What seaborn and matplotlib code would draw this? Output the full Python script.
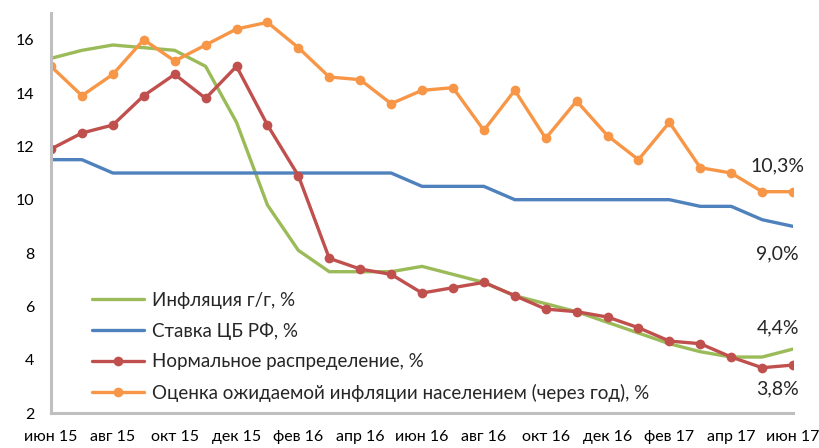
import matplotlib
matplotlib.use("Agg")
import matplotlib.pyplot as plt
import seaborn as sns
import pandas as pd
import numpy as np

months = ["июн 15", "июл 15", "авг 15", "сен 15", "окт 15", "ноя 15", "дек 15",
          "янв 16", "фев 16", "мар 16", "апр 16", "май 16", "июн 16", "июл 16",
          "авг 16", "сен 16", "окт 16", "ноя 16", "дек 16", "янв 17", "фев 17",
          "мар 17", "апр 17", "май 17", "июн 17"]

inflation = [15.3, 15.6, 15.8, 15.7, 15.6, 15.0, 12.9, 9.8, 8.1, 7.3, 7.3, 7.3, 7.5,
             7.2, 6.9, 6.4, 6.1, 5.8, 5.4, 5.0, 4.6, 4.3, 4.1, 4.1, 4.4]
key_rate = [11.5, 11.5, 11.0, 11.0, 11.0, 11.0, 11.0, 11.0, 11.0, 11.0, 11.0, 11.0,
            10.5, 10.5, 10.5, 10.0, 10.0, 10.0, 10.0, 10.0, 10.0, 9.75, 9.75, 9.25, 9.0]
normal = [11.9, 12.5, 12.8, 13.9, 14.7, 13.8, 15.0, 12.8, 10.9, 7.8, 7.4, 7.2, 6.5,
          6.7, 6.9, 6.4, 5.9, 5.8, 5.6, 5.2, 4.7, 4.6, 4.1, 3.7, 3.8]
expected = [15.0, 13.9, 14.7, 16.0, 15.2, 15.8, 16.4, 16.65, 15.7, 14.6, 14.5, 13.6,
            14.1, 14.2, 12.6, 14.1, 12.3, 13.7, 12.4, 11.5, 12.9, 11.2, 11.0, 10.3, 10.3]

names = ["Инфляция г/г, %", "Ставка ЦБ РФ, %", "Нормальное распределение, %",
         "Оценка ожидаемой инфляции населением (через год), %"]
colors = ["#9BBB59", "#4F81BD", "#C0504D", "#F79646"]
y_ticks = [2, 4, 6, 8, 10, 12, 14, 16]
end_labels = ["10,3%", "9,0%", "4,4%", "3,8%"]

x = np.arange(len(months))
df = pd.DataFrame({"x": x, names[0]: inflation, names[1]: key_rate,
                   names[2]: normal, names[3]: expected})

sns.set_style("white")
plt.rcParams["font.family"] = ["Lato", "DejaVu Sans"]

fig = plt.figure(figsize=(8.19, 4.48), dpi=100)
ax = fig.add_axes([0.0623, 0.078, 0.906, 0.893])

sns.lineplot(data=df, x="x", y=names[0], ax=ax, color=colors[0], lw=2.4, label=names[0])
sns.lineplot(data=df, x="x", y=names[1], ax=ax, color=colors[1], lw=2.4, label=names[1])
sns.lineplot(data=df, x="x", y=names[2], ax=ax, color=colors[2], lw=2.4, marker="o",
             markersize=7, markeredgewidth=0, label=names[2])
sns.lineplot(data=df, x="x", y=names[3], ax=ax, color=colors[3], lw=2.4, marker="o",
             markersize=7, markeredgewidth=0, label=names[3])

ax.set_xlim(0, 24)
ax.set_ylim(2, 17)
ax.set_xticks(x[::2])
ax.set_xticklabels(months[::2])
ax.set_yticks(y_ticks)
ax.set_yticklabels([str(v) for v in y_ticks])
ax.set_xlabel("")
ax.set_ylabel("")

for s in ["top", "right"]:
    ax.spines[s].set_visible(False)
for s in ["left", "bottom"]:
    ax.spines[s].set_color("#BFBFBF")
    ax.spines[s].set_linewidth(2.2)
ax.tick_params(axis="both", which="both", length=6, width=2.2, color="#BFBFBF",
               labelsize=11.5, labelcolor="#000000", pad=6)
ax.tick_params(axis="y", direction="out")
ax.tick_params(axis="x", direction="out")

ax.annotate(end_labels[0], (23.5, expected[-1]), xytext=(0, 18.5), textcoords="offset points",
            ha="center", va="center", fontsize=14)
ax.annotate(end_labels[1], (23.5, key_rate[-1]), xytext=(0, -20), textcoords="offset points",
            ha="center", va="center", fontsize=14)
ax.annotate(end_labels[2], (23.5, inflation[-1]), xytext=(0, 15.6), textcoords="offset points",
            ha="center", va="center", fontsize=14)
ax.annotate(end_labels[3], (23.5, normal[-1]), xytext=(0, -17.4), textcoords="offset points",
            ha="center", va="center", fontsize=14)

leg = ax.legend(loc="lower left", bbox_to_anchor=(0.04, 0.0), frameon=False, fontsize=13.5,
                handlelength=2.8, labelspacing=0.72, handletextpad=0.4, borderaxespad=0.2)

fig.savefig("out.png", dpi=100)
